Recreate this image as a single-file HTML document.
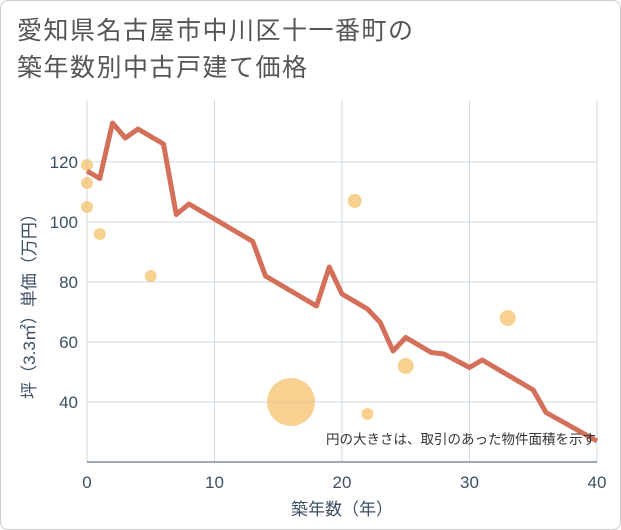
<!DOCTYPE html>
<html><head><meta charset="utf-8"><style>
body{margin:0;background:#fff;font-family:"Liberation Sans","Noto Sans CJK JP",sans-serif}
#wrap{position:relative;width:621px;height:530px;overflow:hidden}
#frame{position:absolute;left:0;top:0;width:619px;height:528px;border:1px solid #ccc;border-radius:8px}
#title{position:absolute;left:17px;top:13px;font-size:25px;letter-spacing:1.5px;line-height:37px;color:#555}
svg{position:absolute;left:0;top:0}
</style></head><body>
<div id="wrap">
<div id="frame"></div>
<div id="title">愛知県名古屋市中川区十一番町の<br>築年数別中古戸建て価格</div>
<svg id="chart" width="621" height="530"></svg>
</div>
<script>
const lineYears=[0,1,2,3,4,6,7,8,13,14,18,19,20,22,23,24,25,27,28,30,31,35,36,40];
const linePrices=[117,114.5,133,128,131,126,102.5,106,93.5,82,72,85,76,71,66.5,57,61.5,56.5,56,51.5,54,44,36.5,27];
const bubbleYears=[0,0,0,1,5,16,21,22,25,33];
const bubblePrices=[119,113,105,96,82,40,107,36,52,68];
const bubbleSizes=[6,6,6,6,6,24,7,6,8,8];
const xTicks=[0,10,20,30,40];
const yTicks=[40,60,80,100,120];
const NS="http://www.w3.org/2000/svg";
const svg=document.getElementById('chart');
const X=v=>87+v*12.75, Y=v=>522-v*3;
function mk(t,a){const e=document.createElementNS(NS,t);for(const k in a)e.setAttribute(k,a[k]);svg.appendChild(e);return e;}
for(const t of xTicks){const g=mk('line',{x1:X(t),x2:X(t),y1:100,y2:462,stroke:'#cfd8e3','stroke-width':1});


const l=mk('text',{x:X(t),y:488,'text-anchor':'middle','font-size':17,fill:'#3d4f66'});l.textContent=t;

}
for(const t of yTicks){const g=mk('line',{x1:87,x2:597,y1:Y(t),y2:Y(t),stroke:'#cfd8e3','stroke-width':1});


const l=mk('text',{x:78,y:Y(t)+6,'text-anchor':'end','font-size':17,fill:'#3d4f66'});l.textContent=t;

}
const ax=mk('line',{x1:87,x2:597,y1:462,y2:462,stroke:'#3d4f66','stroke-width':1});


bubbleYears.forEach((yr,i)=>{const c=mk('circle',{cx:X(yr),cy:Y(bubblePrices[i]),r:bubbleSizes[i],fill:'#f5c16c','fill-opacity':0.75});

});
const p=mk('polyline',{points:lineYears.map((y,i)=>X(y)+','+Y(linePrices[i])).join(' '),fill:'none',stroke:'#d4705a','stroke-width':5,'stroke-linejoin':'round'});


const xt=mk('text',{x:342,y:515,'text-anchor':'middle','font-size':17,fill:'#3d4f66'});xt.textContent='築年数（年）';


const yt=mk('text',{x:0,y:0,'text-anchor':'middle','font-size':17,fill:'#3d4f66',transform:'translate(35,302) rotate(-90)'});yt.textContent='坪（3.3㎡）単価（万円）';


const n=mk('text',{x:596,y:444,'text-anchor':'end','font-size':13.5,fill:'#333'});n.textContent='円の大きさは、取引のあった物件面積を示す';


</script>
</body></html>
